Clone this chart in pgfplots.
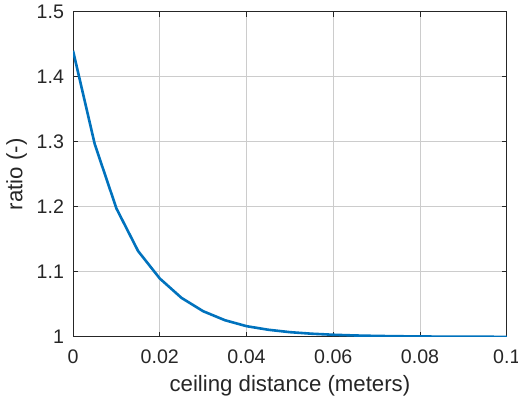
\documentclass[border=0pt]{standalone}
\usepackage{fontspec}
\setmainfont{Liberation Sans}
\usepackage{pgfplots}
\pgfplotsset{compat=1.18}
\definecolor{mblue}{RGB}{0,114,189}
\definecolor{axgray}{RGB}{38,38,38}
\begin{document}
\begin{tikzpicture}
\path[use as bounding box] (-36.5pt,-33.15pt) rectangle (222.35pt,168.35pt);
\begin{axis}[
  at={(0,0)}, anchor=south west,
  scale only axis,
  width=216.75pt, height=162.5pt,
  xmin=0, xmax=0.1, ymin=1, ymax=1.5,
  xtick={0,0.02,0.04,0.06,0.08,0.1},
  ytick={1,1.1,1.2,1.3,1.4,1.5},
  xticklabels={0,0.02,0.04,0.06,0.08,0.1},
  yticklabels={1,1.1,1.2,1.3,1.4,1.5},
  scaled x ticks=false,
  grid=major,
  major grid style={line width=0.5pt, draw=black!20},
  axis line style={line width=0.5pt, draw=axgray},
  tick style={line width=0.5pt, draw=axgray},
  tick align=inside,
  major tick length=2.5pt,
  tick label style={font=\fontsize{9.8}{11}\selectfont, text=axgray},
  label style={font=\fontsize{11.1}{12.5}\selectfont, text=axgray},
  xticklabel style={yshift=-3pt},
  yticklabel style={xshift=-1pt},
  xlabel={ceiling distance (meters)},
  ylabel={ratio (-)},
  xlabel style={yshift=1pt},
  ylabel style={yshift=-2pt},
]
\addplot[color=mblue, line width=1.3pt] coordinates {
(0,1.440) (0.005,1.2965) (0.01,1.1975) (0.015,1.132) (0.02,1.0898)
(0.025,1.0600) (0.03,1.0395) (0.035,1.0257) (0.04,1.0165) (0.045,1.0110)
(0.05,1.0073) (0.055,1.0049) (0.06,1.0033) (0.065,1.0022) (0.07,1.0015)
(0.075,1.0010) (0.08,1.0007) (0.085,1.0004) (0.09,1.0003) (0.095,1.0002) (0.1,1.0001)
};
\end{axis}
\end{tikzpicture}
\end{document}
